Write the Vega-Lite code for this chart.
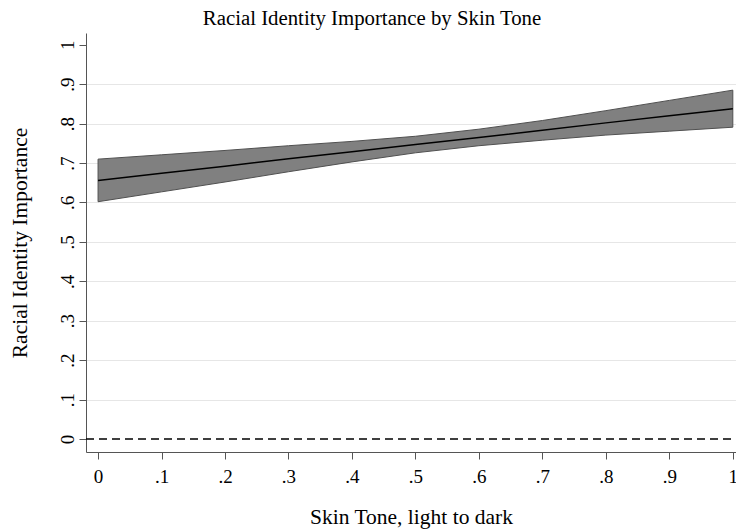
{
  "$schema": "https://vega.github.io/schema/vega-lite/v6.json",
  "width": 650,
  "height": 419,
  "autosize": {"type": "none"},
  "padding": {"left": 86, "top": 33, "right": 0, "bottom": 77},
  "background": "white",
  "config": {
    "view": {"stroke": null},
    "font": "Liberation Serif",
    "axis": {
      "labelFont": "Liberation Serif",
      "titleFont": "Liberation Serif",
      "labelFontSize": 19,
      "titleFontSize": 21.5,
      "labelColor": "black",
      "titleColor": "black",
      "titleFontWeight": "normal",
      "domainColor": "#555555",
      "tickColor": "#555555",
      "tickSize": 7,
      "gridColor": "#e6e6e6"
    }
  },
  "title": {
    "text": "Racial Identity Importance by Skin Tone",
    "font": "Liberation Serif",
    "fontSize": 20.8,
    "fontWeight": "normal",
    "color": "black",
    "anchor": "middle",
    "dx": -39,
    "offset": 3
  },
  "data": {
    "values": [
      {"tone": 0.0, "fit": 0.656, "lo": 0.602, "hi": 0.710},
      {"tone": 0.1, "fit": 0.674, "lo": 0.627, "hi": 0.721},
      {"tone": 0.2, "fit": 0.692, "lo": 0.652, "hi": 0.732},
      {"tone": 0.3, "fit": 0.711, "lo": 0.678, "hi": 0.744},
      {"tone": 0.4, "fit": 0.729, "lo": 0.703, "hi": 0.755},
      {"tone": 0.5, "fit": 0.747, "lo": 0.726, "hi": 0.768},
      {"tone": 0.6, "fit": 0.765, "lo": 0.744, "hi": 0.786},
      {"tone": 0.7, "fit": 0.783, "lo": 0.758, "hi": 0.808},
      {"tone": 0.8, "fit": 0.802, "lo": 0.771, "hi": 0.833},
      {"tone": 0.9, "fit": 0.820, "lo": 0.781, "hi": 0.859},
      {"tone": 1.0, "fit": 0.838, "lo": 0.791, "hi": 0.885}
    ]
  },
  "encoding": {
    "x": {
      "field": "tone",
      "type": "quantitative",
      "scale": {"domain": [-0.019, 1.005], "nice": false, "zero": false},
      "axis": {
        "title": "Skin Tone, light to dark",
        "values": [0, 0.1, 0.2, 0.3, 0.4, 0.5, 0.6, 0.7, 0.8, 0.9, 1],
        "labelExpr": "datum.value == 0 ? '0' : datum.value == 1 ? '1' : replace(format(datum.value, '.1f'), '0.', '.')",
        "grid": false,
        "labelPadding": 8,
        "titlePadding": 20
      }
    }
  },
  "layer": [
    {
      "mark": {"type": "area", "color": "#808080", "stroke": "#505050", "strokeWidth": 1, "opacity": 1},
      "encoding": {
        "y": {
          "field": "lo",
          "type": "quantitative",
          "scale": {"domain": [-0.033, 1.03], "nice": false, "zero": false},
          "axis": {
            "title": "Racial Identity Importance",
            "values": [0, 0.1, 0.2, 0.3, 0.4, 0.5, 0.6, 0.7, 0.8, 0.9, 1],
            "labelExpr": "datum.value == 0 ? '0' : datum.value == 1 ? '1' : replace(format(datum.value, '.1f'), '0.', '.')",
            "labelAngle": -90,
            "labelAlign": "center",
            "labelBaseline": "alphabetic",
            "labelPadding": 6,
            "titlePadding": 27,
            "grid": true,
            "gridOpacity": {"condition": {"test": "datum.value == 0 || datum.value == 1", "value": 0}, "value": 1}
          }
        },
        "y2": {"field": "hi"}
      }
    },
    {
      "mark": {"type": "line", "color": "black", "strokeWidth": 1.5},
      "encoding": {"y": {"field": "fit", "type": "quantitative"}}
    },
    {
      "data": {"values": [{"ref": 0}]},
      "mark": {"type": "rule", "color": "black", "strokeWidth": 1.5, "strokeDash": [8, 5]},
      "encoding": {"y": {"field": "ref", "type": "quantitative"}, "x": {"value": 0}, "x2": {"value": 650}}
    }
  ]
}
